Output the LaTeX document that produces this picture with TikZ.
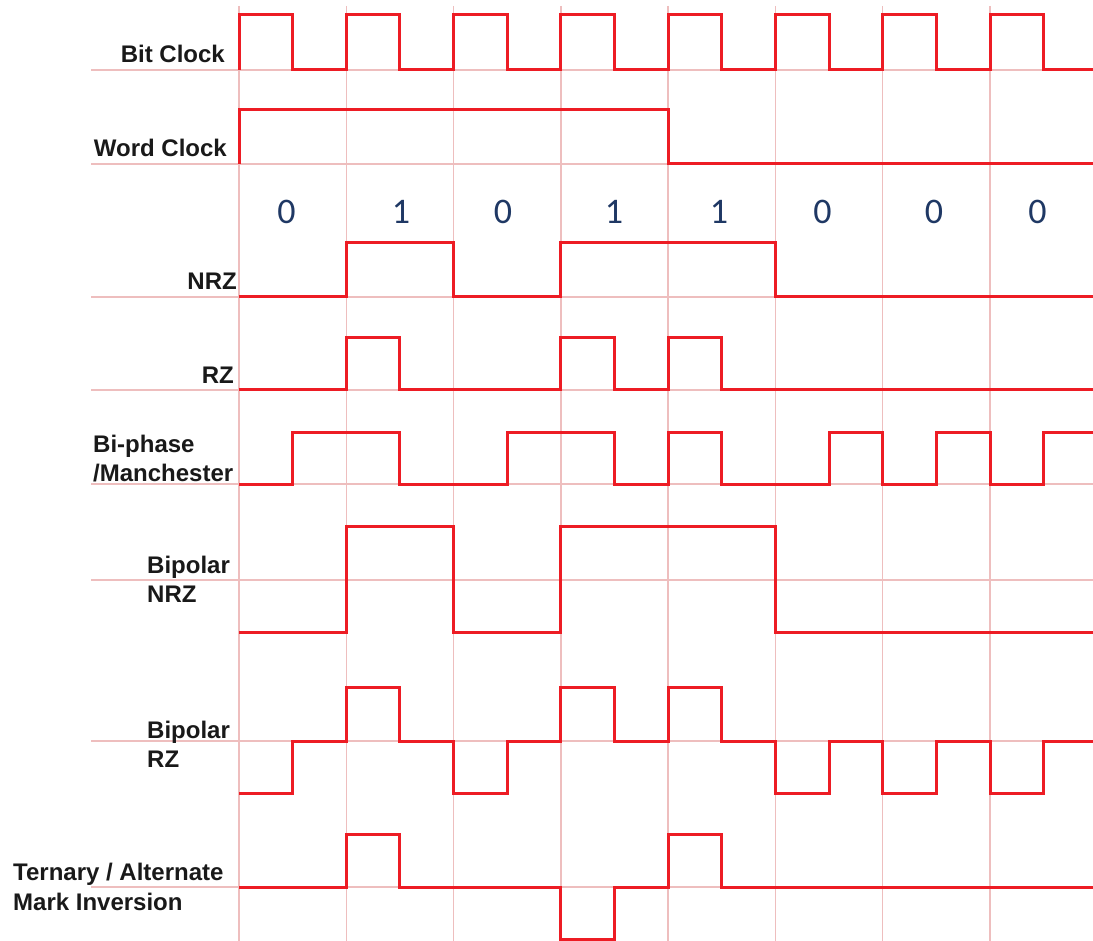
\documentclass[tikz,border=0pt]{standalone}
\usepackage{fontspec}
\newfontfamily\lblfont{Liberation Sans}
\newfontfamily\digfont{Carlito}
\definecolor{sigc}{RGB}{237,28,36}
\definecolor{gridc}{RGB}{238,190,190}
\definecolor{digc}{RGB}{31,56,100}
\tikzset{
  gridline/.style={draw=gridc, line width=1.5pt},
  signal/.style={draw=sigc, line width=3pt, line join=miter},
  lbl/.style={font=\lblfont\bfseries\fontsize{24}{28}\selectfont, inner sep=0pt, text=black!90},
  bitlbl/.style={font=\digfont\fontsize{36}{42}\selectfont, inner sep=0pt, text=digc, anchor=base}
}
\begin{document}
\begin{tikzpicture}[x=1pt,y=-1pt]
\useasboundingbox (0,0) rectangle (1093,941);
% grid
\foreach \k in {0,...,7} \draw[gridline] ({239+\k*107.286},6) -- ({239+\k*107.286},941);
\foreach \yy in {70,164,297,390,484,580,741,887} \draw[gridline] (91,\yy) -- (1093,\yy);
% signals
\begin{scope}[xshift=239pt, x=53.643pt]
\draw[signal] (0,70)--(0,15)--(1,15)--(1,70)--(2,70)--(2,15)--(3,15)--(3,70)--(4,70)--(4,15)--(5,15)--(5,70)--(6,70)--(6,15)--(7,15)--(7,70)--(8,70)--(8,15)--(9,15)--(9,70)--(10,70)--(10,15)--(11,15)--(11,70)--(12,70)--(12,15)--(13,15)--(13,70)--(14,70)--(14,15)--(15,15)--(15,70)--(15.95,70);
\draw[signal] (0,164)--(0,110)--(8,110)--(8,164)--(15.95,164);
\draw[signal] (0,297)--(2,297)--(2,243)--(4,243)--(4,297)--(6,297)--(6,243)--(10,243)--(10,297)--(15.95,297);
\draw[signal] (0,390)--(2,390)--(2,338)--(3,338)--(3,390)--(6,390)--(6,338)--(7,338)--(7,390)--(8,390)--(8,338)--(9,338)--(9,390)--(15.95,390);
\draw[signal] (0,484)--(1,484)--(1,432)--(3,432)--(3,484)--(5,484)--(5,432)--(7,432)--(7,484)--(8,484)--(8,432)--(9,432)--(9,484)--(11,484)--(11,432)--(12,432)--(12,484)--(13,484)--(13,432)--(14,432)--(14,484)--(15,484)--(15,432)--(15.95,432);
\draw[signal] (0,632)--(2,632)--(2,526)--(4,526)--(4,632)--(6,632)--(6,526)--(10,526)--(10,632)--(15.95,632);
\draw[signal] (0,793)--(1,793)--(1,741)--(2,741)--(2,687)--(3,687)--(3,741)--(4,741)--(4,793)--(5,793)--(5,741)--(6,741)--(6,687)--(7,687)--(7,741)--(8,741)--(8,687)--(9,687)--(9,741)--(10,741)--(10,793)--(11,793)--(11,741)--(12,741)--(12,793)--(13,793)--(13,741)--(14,741)--(14,793)--(15,793)--(15,741)--(15.95,741);
\draw[signal] (0,887)--(2,887)--(2,834)--(3,834)--(3,887)--(6,887)--(6,939)--(7,939)--(7,887)--(8,887)--(8,834)--(9,834)--(9,887)--(15.95,887);
\end{scope}
% bit values
\node[bitlbl] (b1) at (286.5,224) {0};
\node[bitlbl] (b2) at (401,224) {1};
\node[bitlbl] (b3) at (503,224) {0};
\node[bitlbl] (b4) at (614,224) {1};
\node[bitlbl] (b5) at (719,224) {1};
\node[bitlbl] (b6) at (822.5,224) {0};
\node[bitlbl] (b7) at (934,224) {0};
\node[bitlbl] (b8) at (1037.5,224) {0};
% labels
\node[lbl, anchor=base east] (lbit) at (225,63) {Bit Clock};
\node[lbl, anchor=base east] (lword) at (227,157) {Word Clock};
\node[lbl, anchor=base east] (lnrz) at (237,290) {NRZ};
\node[lbl, anchor=base east] (lrz) at (234,384) {RZ};
\node[lbl, anchor=base west] (lbi1) at (93,452) {Bi-phase};
\node[lbl, anchor=base west] (lbi2) at (93,481) {/Manchester};
\node[lbl, anchor=base west] (lbn1) at (147,573) {Bipolar};
\node[lbl, anchor=base west] (lbn2) at (147,602) {NRZ};
\node[lbl, anchor=base west] (lbr1) at (147,738) {Bipolar};
\node[lbl, anchor=base west] (lbr2) at (147,767) {RZ};
\node[lbl, anchor=base west] (lami1) at (13,880) {Ternary / Alternate};
\node[lbl, anchor=base west] (lami2) at (13,910) {Mark Inversion};
\end{tikzpicture}
\end{document}
